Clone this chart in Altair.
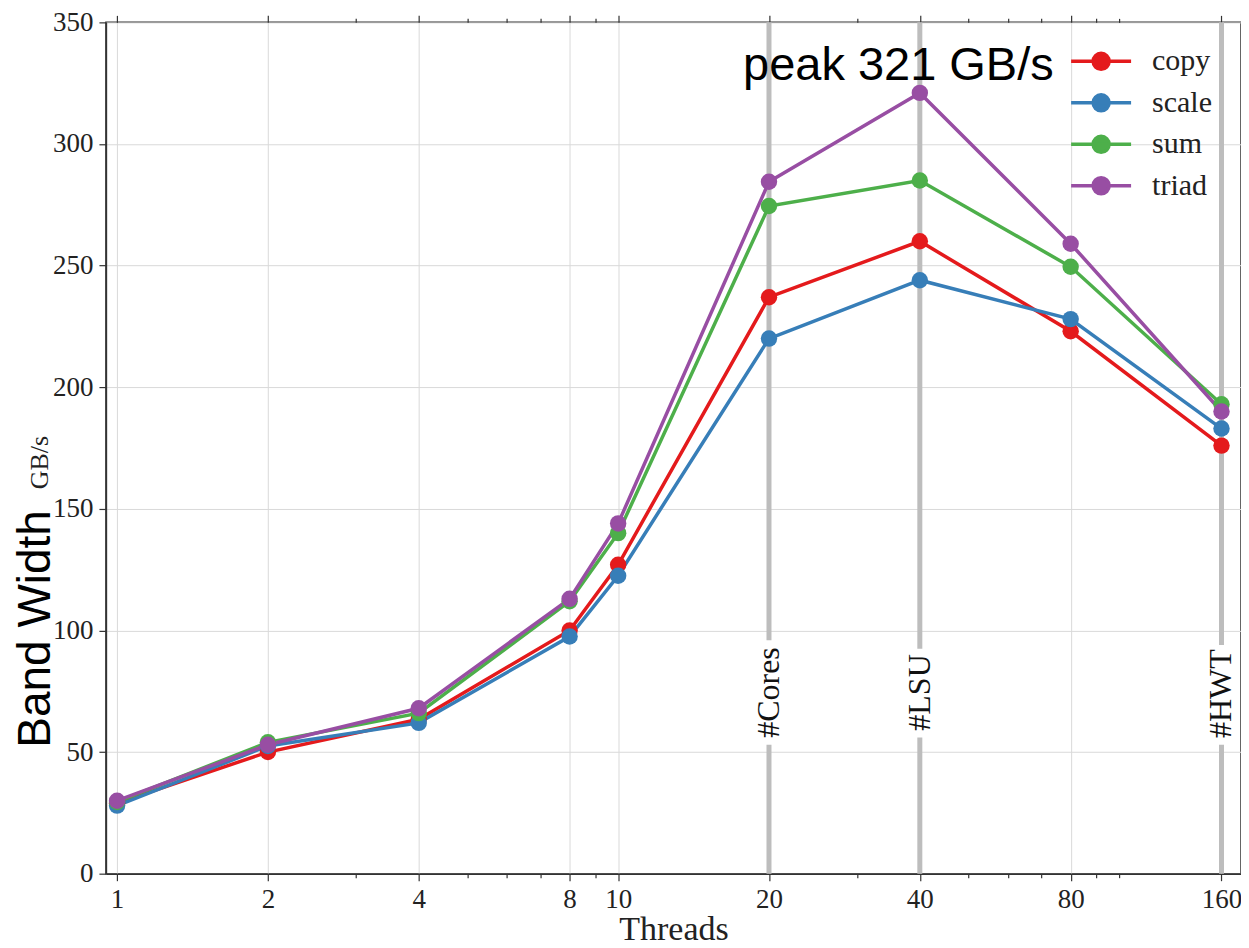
import altair as alt
import pandas as pd

# ---- data ----
threads = [1, 2, 4, 8, 10, 20, 40, 80, 160]
series_names = ["copy", "scale", "sum", "triad"]
copy_vals = [29, 50, 63.5, 100, 127, 237, 260, 223, 176]
scale_vals = [28, 52.5, 62, 97.5, 122.5, 220, 244, 228, 183]
sum_vals = [29.5, 54, 66, 112, 140, 274.5, 285, 249.5, 193]
triad_vals = [30, 53, 68, 113, 144, 284.5, 321, 259, 190]
colors = ["#e41a1c", "#377eb8", "#4daf4a", "#984ea3"]

marker_threads = [20, 40, 160]
marker_labels = ["#Cores", "#LSU", "#HWT"]
marker_label_y = [74.5, 74.5, 74]
marker_gap_lo = [53, 56, 53]
marker_gap_hi = [96, 92.5, 94]

major_ticks = [1, 2, 4, 8, 10, 20, 40, 80, 160]
minor_ticks = [3, 5, 6, 7, 9, 30, 50, 60, 70, 90, 100]
y_ticks = [0, 50, 100, 150, 200, 250, 300, 350]

peak_x = [40]
peak_y = [321]
peak_text = ["peak 321 GB/s"]
ylabel_text = ["Band Width"]

# ---- tables ----
rows = []
for name, vals in zip(series_names, [copy_vals, scale_vals, sum_vals, triad_vals]):
    for t, v in zip(threads, vals):
        rows.append({"threads": t, "series": name, "value": v})
df = pd.DataFrame(rows)

markers = pd.DataFrame({
    "threads": marker_threads,
    "label": marker_labels,
    "ly": marker_label_y,
    "lo": marker_gap_lo,
    "hi": marker_gap_hi,
})
peak = pd.DataFrame({"threads": peak_x, "value": peak_y, "text": peak_text})
ylab = pd.DataFrame({"text": ylabel_text})

SERIF = "Liberation Serif"
SANS = "Liberation Sans"

major_list = ",".join(str(v) for v in major_ticks)
is_major = f"indexof([{major_list}], datum.value) >= 0"

xscale = alt.Scale(type="log", base=2, domain=[0.95, 175], nice=False)
yscale = alt.Scale(domain=[0, 350], nice=False, zero=True)

x_bottom = alt.Axis(
    orient="bottom",
    values=major_ticks + minor_ticks,
    labelExpr=f"{is_major} ? '' + datum.value : ''",
    tickSize={"condition": {"test": is_major, "value": 7}, "value": 4},
    gridOpacity={"condition": {"test": is_major, "value": 1}, "value": 0},
    grid=True,
    title="Threads",
    titleFont=SERIF,
    titleFontSize=34,
    titleFontWeight="normal",
    titleColor="#222",
    titlePadding=0,
    labelPadding=6,
)
x_top = alt.Axis(
    orient="top",
    values=major_ticks + minor_ticks,
    labels=False,
    grid=False,
    domain=False,
    tickSize={"condition": {"test": is_major, "value": 7}, "value": 4},
    title=None,
)
y_left = alt.Axis(
    orient="left",
    values=y_ticks,
    grid=True,
    tickSize=7,
    labelPadding=6,
    title="GB/s",
    titleFont=SERIF,
    titleFontSize=26,
    titleFontWeight="normal",
    titleColor="#222",
    titleAngle=270,
    titleAlign="center",
    titleBaseline="alphabetic",
    titleX=-58,
    titleY=440,
)
y_right = alt.Axis(
    orient="right",
    values=y_ticks,
    labels=False,
    grid=False,
    domain=False,
    tickSize=7,
    title=None,
)

legend_symbol = "M-3.75,0L3.75,0M1,0A1,1,0,1,1,-1,0A1,1,0,1,1,1,0Z"
color = alt.Color(
    "series:N",
    scale=alt.Scale(domain=series_names, range=colors),
    sort=series_names,
    legend=alt.Legend(
        orient="none",
        legendX=981,
        legendY=24,
        title=None,
        symbolType=legend_symbol,
        symbolSize=256,
        symbolStrokeWidth=3.5,
        labelFont=SERIF,
        labelFontSize=30,
        labelColor="#222",
        labelOffset=36,
        rowPadding=11.5,
        padding=0,
    ),
)

vlines = alt.Chart(markers).mark_rule(color="#bdbdbd", strokeWidth=5).encode(
    x=alt.X("threads:Q", scale=xscale, axis=x_top)
)
gaps = alt.Chart(markers).mark_rule(color="white", strokeWidth=9).encode(
    x=alt.X("threads:Q", scale=xscale, axis=None),
    y=alt.Y("lo:Q", scale=yscale, axis=None),
    y2="hi:Q",
)
mlabels = alt.Chart(markers).mark_text(
    angle=270, font=SERIF, fontSize=32, align="center", baseline="middle", color="#111"
).encode(
    x=alt.X("threads:Q", scale=xscale, axis=None),
    y=alt.Y("ly:Q", scale=yscale, axis=None),
    text="label:N",
)
lines = alt.Chart(df).mark_line(strokeWidth=3.5).encode(
    x=alt.X("threads:Q", scale=xscale, axis=x_bottom),
    y=alt.Y("value:Q", scale=yscale, axis=y_left),
    color=color,
    order="threads:Q",
)
points = alt.Chart(df).mark_circle(size=270, opacity=1).encode(
    x=alt.X("threads:Q", scale=xscale, axis=None),
    y=alt.Y("value:Q", scale=yscale, axis=y_right),
    color=color,
)
peak_label = alt.Chart(peak).mark_text(
    font=SANS, fontSize=47, align="right", baseline="alphabetic", dx=134, dy=-13, color="black"
).encode(
    x=alt.X("threads:Q", scale=xscale, axis=None),
    y=alt.Y("value:Q", scale=yscale, axis=None),
    text="text:N",
)
band_label = alt.Chart(ylab).mark_text(
    font=SANS, fontSize=46, angle=270, align="center", baseline="alphabetic", color="black"
).encode(
    x=alt.value(-56),
    y=alt.value(607),
    text="text:N",
)

chart = (
    alt.layer(vlines, gaps, mlabels, lines, points, peak_label, band_label)
    .resolve_axis(x="independent", y="independent")
    .properties(
        width=1136,
        height=852,
        autosize=alt.AutoSizeParams(type="none"),
        padding={"left": 98, "top": 14, "right": 0, "bottom": 74},
    )
    .configure_view(stroke="#333", strokeWidth=1.5)
    .configure_axis(
        labelFont=SERIF,
        labelFontSize=27,
        labelColor="#222",
        tickColor="#333",
        tickWidth=1.2,
        domainColor="#333",
        domainWidth=1.5,
        gridColor="#d9d9d9",
        gridWidth=1,
    )
)

chart.save("out.html", embed_options={"renderer": "svg", "actions": False})
